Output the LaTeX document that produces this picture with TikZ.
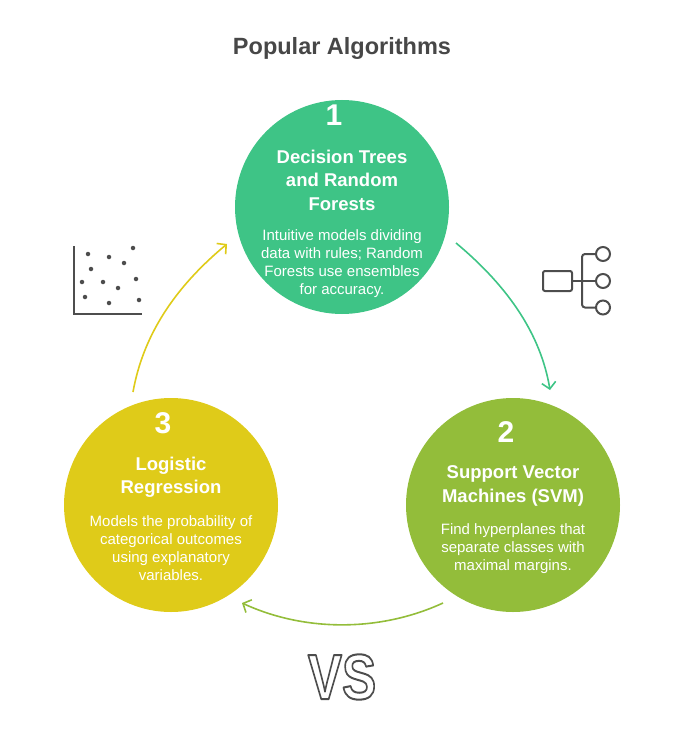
\documentclass[tikz,border=0pt]{standalone}
\usepackage{fontspec}
\setmainfont{Liberation Sans}
\usetikzlibrary{arrows.meta}
\definecolor{cgreen}{HTML}{3EC486}
\definecolor{clime}{HTML}{93BD3A}
\definecolor{cyellow}{HTML}{DFCB19}
\definecolor{ctitle}{HTML}{474747}
\definecolor{cicon}{HTML}{4D4D4D}
\newcommand{\vstext}{\special{pdf:literal direct 1 Tr 2 w 1 j 0.302 0.302 0.302 RG}\scalebox{0.8}[1]{VS}\special{pdf:literal direct 0 Tr}}
\begin{document}
\begin{tikzpicture}[x=1pt,y=-1pt,
  disc/.style={circle, minimum size=214pt, inner sep=0pt, draw=none},
  num/.style={text=white, font=\bfseries\fontsize{30}{30}\selectfont, inner sep=0pt},
  head/.style={text=white, font=\bfseries\fontsize{18.5}{23.5}\selectfont, align=center, inner sep=0pt},
  body/.style={text=white, font=\fontsize{15}{18}\selectfont, align=center, inner sep=0pt},
  flow/.style={line width=1.6pt, -{Straight Barb[length=6.5pt,width=14pt,line width=1.6pt]}},
  icon/.style={draw=cicon, line width=2pt},
  dot/.style={circle, fill=cicon, inner sep=0pt, minimum size=4.5pt},
  vsfont/.style={inner sep=0pt, font=\bfseries\fontsize{64}{64}\selectfont}]
\useasboundingbox (0,0) rectangle (684,738);

\node[text=ctitle, font=\bfseries\fontsize{23.5}{28}\selectfont] (title) at (342,48) {Popular Algorithms};

\node[disc, fill=cgreen] (c1) at (342,207) {};
\node[disc, fill=clime] (c2) at (513,505) {};
\node[disc, fill=cyellow] (c3) at (171,505) {};

\node[num] (n1) at (334,115) {1};
\node[head] (h1) at (342,180) {Decision Trees\\and Random\\Forests};
\node[body] (b1) at (342,264) {Intuitive models dividing\\data with rules; Random\\Forests use ensembles\\for accuracy.};

\node[num] (n2) at (506,432) {2};
\node[head] (h2) at (513,486) {Support Vector\\Machines (SVM)};
\node[body] (b2) at (513,549) {Find hyperplanes that\\separate classes with\\maximal margins.};

\node[num] (n3) at (163,423) {3};
\node[head] (h3) at (171,477.5) {Logistic\\Regression};
\node[body] (b3) at (171,548.5) {Models the probability of\\categorical outcomes\\using explanatory\\variables.};

% connectors
\coordinate (g1) at (456,243);
\coordinate (g2) at (550,390);
\draw[flow, cgreen] (g1) .. controls (510,288) and (541,336) .. (g2);
\coordinate (l1) at (443,603);
\coordinate (l2) at (242,603);
\draw[flow, clime] (l1) .. controls (380,632) and (305,632) .. (l2);
\coordinate (y1) at (133,392);
\coordinate (y2) at (227,244);
\draw[flow, cyellow] (y1) .. controls (143,336) and (174,288) .. (y2);

% scatter icon
\draw[icon] (74,246) -- (74,314) -- (142,314);
\foreach \p/\q in {88/254,109/257,133/248,124/263,91/269,82/282,103/282,136/279,118/288,85/297,109/303,139/300}
  \node[dot] at (\p,\q) {};

% tree icon
\draw[icon, rounded corners=2pt] (543,271) rectangle (572,291);
\draw[icon] (572,281) -- (596,281);
\draw[icon, rounded corners=3pt] (596,254) -- (582,254) -- (582,307.5) -- (596,307.5);
\draw[icon] (603,254) circle (7);
\draw[icon] (603,281) circle (7);
\draw[icon] (603,307.5) circle (7);

% VS outlined (stroke-only text rendering)
\node[vsfont, text=cicon] (vs) at (342,677) {\vstext};
\end{tikzpicture}
\end{document}
